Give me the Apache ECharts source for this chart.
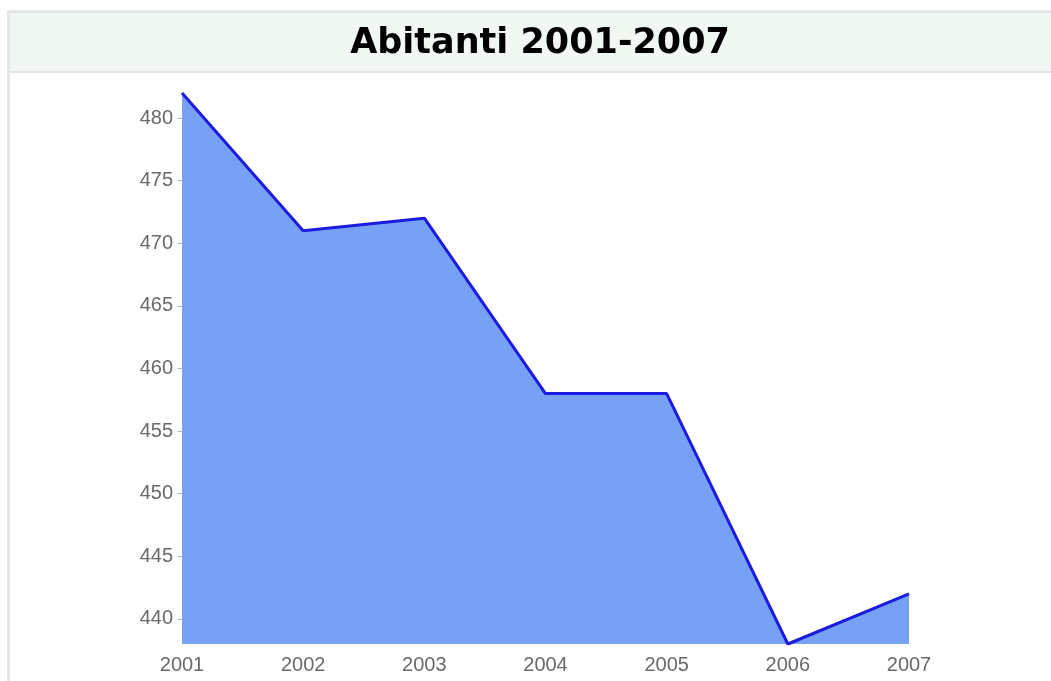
<!DOCTYPE html>
<html>
<head>
<meta charset="utf-8">
<script src="https://cdn.jsdelivr.net/npm/echarts@6/dist/echarts.min.js"></script>
<style>
  html, body { margin: 0; padding: 0; background: #ffffff; }
  #chart { width: 1051px; height: 681px; }
</style>
</head>
<body>
<div id="chart"></div>
<script>
// Residents per year
const years = ['2001', '2002', '2003', '2004', '2005', '2006', '2007'];
const residents = [482, 471, 472, 458, 458, 438, 442];
const yTickValues = [440, 445, 450, 455, 460, 465, 470, 475, 480];

const chart = echarts.init(document.getElementById('chart'), null, { renderer: 'canvas' });

chart.setOption({
  backgroundColor: '#ffffff',
  animation: false,
  graphic: [
    // header band with frame borders
    { type: 'rect', left: 7, top: 10, shape: { width: 1044, height: 63 }, style: { fill: '#e6e6e6' }, z: 0 },
    { type: 'rect', left: 10, top: 13, shape: { width: 1041, height: 58 }, style: { fill: '#f1f7f3' }, z: 1 },
    { type: 'rect', left: 7, top: 73, shape: { width: 3, height: 608 }, style: { fill: '#e6e6e6' }, z: 0 }
  ],
  title: {
    text: 'Abitanti 2001-2007',
    left: 535,
    textAlign: 'center',
    top: 21,
    textStyle: {
      fontFamily: 'DejaVu Sans',
      fontWeight: 'bold',
      fontSize: 35,
      color: '#000000'
    },
    z: 5
  },
  grid: { left: 182, right: 142, top: 93, bottom: 37 },
  xAxis: {
    type: 'category',
    data: years,
    boundaryGap: false,
    axisLine: { show: false },
    axisTick: { show: false },
    axisLabel: {
      color: '#6a6a6a',
      fontFamily: 'Liberation Sans',
      fontSize: 20,
      margin: 11
    },
    splitLine: { show: false }
  },
  yAxis: {
    type: 'value',
    min: 438,
    max: 482,
    axisLine: { show: false },
    axisTick: {
      show: true,
      length: 5,
      customValues: yTickValues,
      lineStyle: { color: '#bbbbbb', width: 1 }
    },
    axisLabel: {
      customValues: yTickValues,
      color: '#6a6a6a',
      fontFamily: 'Liberation Sans',
      fontSize: 20,
      margin: 9
    },
    splitLine: { show: false }
  },
  series: [{
    type: 'line',
    data: residents,
    symbol: 'none',
    lineStyle: { color: '#1c1ce0', width: 3 },
    areaStyle: { color: '#76a1f5', opacity: 1, origin: 'start' }
  }]
});
</script>
</body>
</html>
